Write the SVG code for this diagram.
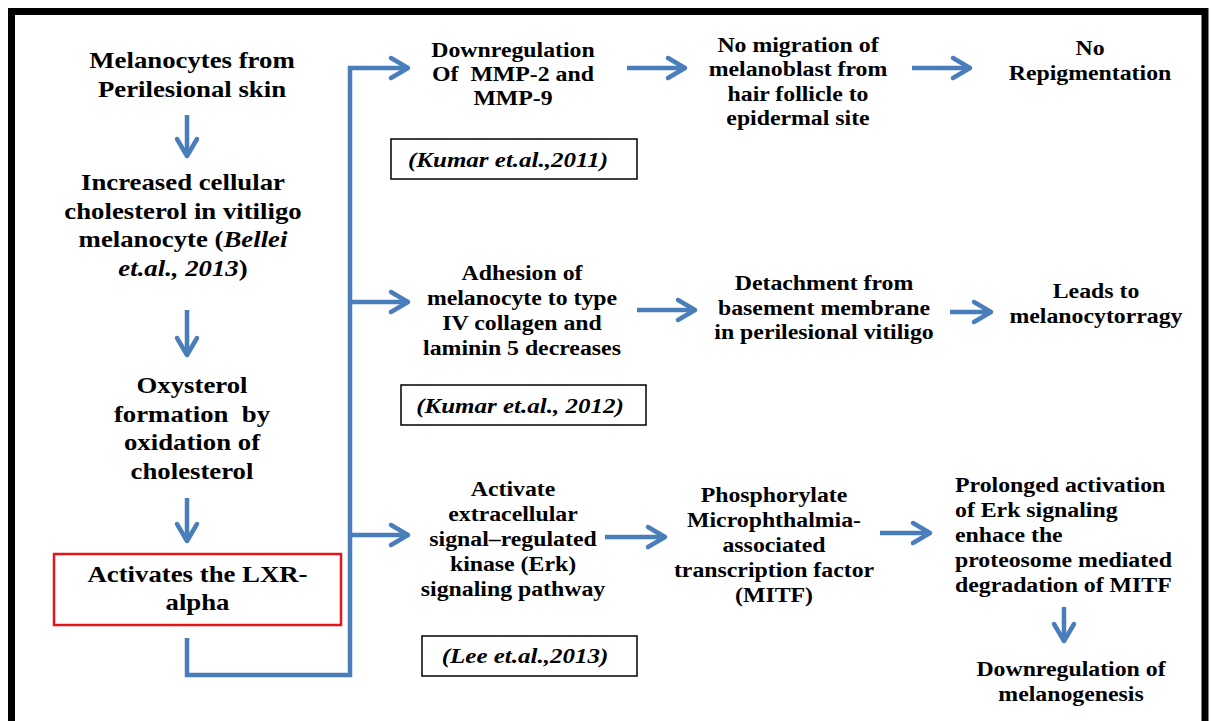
<svg xmlns="http://www.w3.org/2000/svg" width="1212" height="721" viewBox="0 0 1212 721">
<style>
.t{font-family:"Liberation Serif","Times New Roman",serif;font-weight:bold;fill:#000;text-anchor:middle}
.l{font-size:22.5px}
.r{font-size:20px}
.s{text-anchor:start}
.c{font-size:21px;font-style:italic}
.i{font-style:italic}
.cb{fill:#fff;stroke:#000;stroke-width:1.5}
.ln{fill:none;stroke:#4A7EBB;stroke-width:4.5}
.frame{fill:none;stroke:#000;stroke-width:7}
</style>
<defs>
<marker id="ah" markerUnits="userSpaceOnUse" markerWidth="30" markerHeight="30" viewBox="-22 -15 30 30" refX="0" refY="0" orient="auto">
<path d="M-17,-10 L0,0 L-17,10" fill="none" stroke="#4A7EBB" stroke-width="4.5" stroke-linecap="round" stroke-linejoin="round"/>
</marker>
</defs>
<rect width="1212" height="721" fill="#fff"/>
<path class="frame" d="M11.5,721 V11.5 H1205 V721"/>

<g id="connectors">
<path class="ln" d="M187,115 V156" marker-end="url(#ah)"/>
<path class="ln" d="M187,310 V355" marker-end="url(#ah)"/>
<path class="ln" d="M187,498 V541" marker-end="url(#ah)"/>
<path class="ln" d="M187,638 V675 H350 V68 H408" marker-end="url(#ah)"/>
<path class="ln" d="M350,302 H408" marker-end="url(#ah)"/>
<path class="ln" d="M350,535 H408" marker-end="url(#ah)"/>
<path class="ln" d="M627,68 H685" marker-end="url(#ah)"/>
<path class="ln" d="M912,68 H970" marker-end="url(#ah)"/>
<path class="ln" d="M637,310 H695" marker-end="url(#ah)"/>
<path class="ln" d="M950,312 H991" marker-end="url(#ah)"/>
<path class="ln" d="M605,537 H665" marker-end="url(#ah)"/>
<path class="ln" d="M880,533 H930" marker-end="url(#ah)"/>
<path class="ln" d="M1064,607 V641" marker-end="url(#ah)"/>
</g>

<g id="n1"><g transform="translate(192,0) scale(1.19,1)"><text class="t l"><tspan x="0" y="68">Melanocytes from</tspan><tspan x="0" y="97">Perilesional skin</tspan></text></g></g>

<g id="n2"><g transform="translate(183,0) scale(1.19,1)"><text class="t l"><tspan x="0" y="190">Increased cellular</tspan><tspan x="0" y="219">cholesterol in vitiligo</tspan><tspan x="0" y="247">melanocyte (<tspan class="i">Bellei</tspan></tspan><tspan x="0" y="276"><tspan class="i">et.al., 2013</tspan>)</tspan></text></g></g>

<g id="n3"><g transform="translate(192,0) scale(1.19,1)"><text class="t l" xml:space="preserve"><tspan x="0" y="393">Oxysterol</tspan><tspan x="0" y="422">formation  by</tspan><tspan x="0" y="450">oxidation of</tspan><tspan x="0" y="479">cholesterol</tspan></text></g></g>

<g id="n4"><rect x="54" y="554" width="287" height="71" fill="#fff" stroke="#E8141B" stroke-width="2.5"/><g transform="translate(197.5,0) scale(1.19,1)"><text class="t l"><tspan x="0" y="582">Activates the LXR-</tspan><tspan x="0" y="610">alpha</tspan></text></g></g>

<g id="n5"><g transform="translate(513,0) scale(1.19,1)"><text class="t r" xml:space="preserve"><tspan x="0" y="57">Downregulation</tspan><tspan x="0" y="81">Of  MMP-2 and</tspan><tspan x="0" y="105">MMP-9</tspan></text></g></g>

<g id="c1"><rect class="cb" x="391" y="139" width="246" height="40"/><g transform="translate(508,0) scale(1.19,1)"><text class="t c" x="0" y="167">(Kumar et.al.,2011)</text></g></g>

<g id="n6"><g transform="translate(798,0) scale(1.19,1)"><text class="t r"><tspan x="0" y="52">No migration of</tspan><tspan x="0" y="76.5">melanoblast from</tspan><tspan x="0" y="101">hair follicle to</tspan><tspan x="0" y="125.5">epidermal site</tspan></text></g></g>

<g id="n7"><g transform="translate(1090,0) scale(1.19,1)"><text class="t r"><tspan x="0" y="55">No</tspan><tspan x="0" y="80">Repigmentation</tspan></text></g></g>

<g id="n8"><g transform="translate(522,0) scale(1.19,1)"><text class="t r"><tspan x="0" y="280">Adhesion of</tspan><tspan x="0" y="305">melanocyte to type</tspan><tspan x="0" y="330">IV collagen and</tspan><tspan x="0" y="355">laminin 5 decreases</tspan></text></g></g>

<g id="c2"><rect class="cb" x="401" y="385" width="245" height="40"/><g transform="translate(520,0) scale(1.19,1)"><text class="t c" x="0" y="413">(Kumar et.al., 2012)</text></g></g>

<g id="n9"><g transform="translate(824,0) scale(1.19,1)"><text class="t r"><tspan x="0" y="290">Detachment from</tspan><tspan x="0" y="315">basement membrane</tspan><tspan x="0" y="339.5">in perilesional vitiligo</tspan></text></g></g>

<g id="n10"><g transform="translate(1096,0) scale(1.19,1)"><text class="t r"><tspan x="0" y="298">Leads to</tspan><tspan x="0" y="323">melanocytorragy</tspan></text></g></g>

<g id="n11"><g transform="translate(513,0) scale(1.19,1)"><text class="t r"><tspan x="0" y="496">Activate</tspan><tspan x="0" y="521">extracellular</tspan><tspan x="0" y="546">signal–regulated</tspan><tspan x="0" y="571">kinase (Erk)</tspan><tspan x="0" y="596">signaling pathway</tspan></text></g></g>

<g id="c3"><rect class="cb" x="422" y="636" width="215" height="40"/><g transform="translate(525,0) scale(1.19,1)"><text class="t c" x="0" y="663">(Lee et.al.,2013)</text></g></g>

<g id="n12"><g transform="translate(774,0) scale(1.19,1)"><text class="t r"><tspan x="0" y="502">Phosphorylate</tspan><tspan x="0" y="527">Microphthalmia-</tspan><tspan x="0" y="552">associated</tspan><tspan x="0" y="577">transcription factor</tspan><tspan x="0" y="602">(MITF)</tspan></text></g></g>

<g id="n13"><g transform="translate(955,0) scale(1.19,1)"><text class="t r s"><tspan x="0" y="492">Prolonged activation</tspan><tspan x="0" y="517">of Erk signaling</tspan><tspan x="0" y="542">enhace the</tspan><tspan x="0" y="567">proteosome mediated</tspan><tspan x="0" y="592">degradation of MITF</tspan></text></g></g>

<g id="n14"><g transform="translate(1071,0) scale(1.19,1)"><text class="t r"><tspan x="0" y="676">Downregulation of</tspan><tspan x="0" y="701">melanogenesis</tspan></text></g></g>
</svg>
